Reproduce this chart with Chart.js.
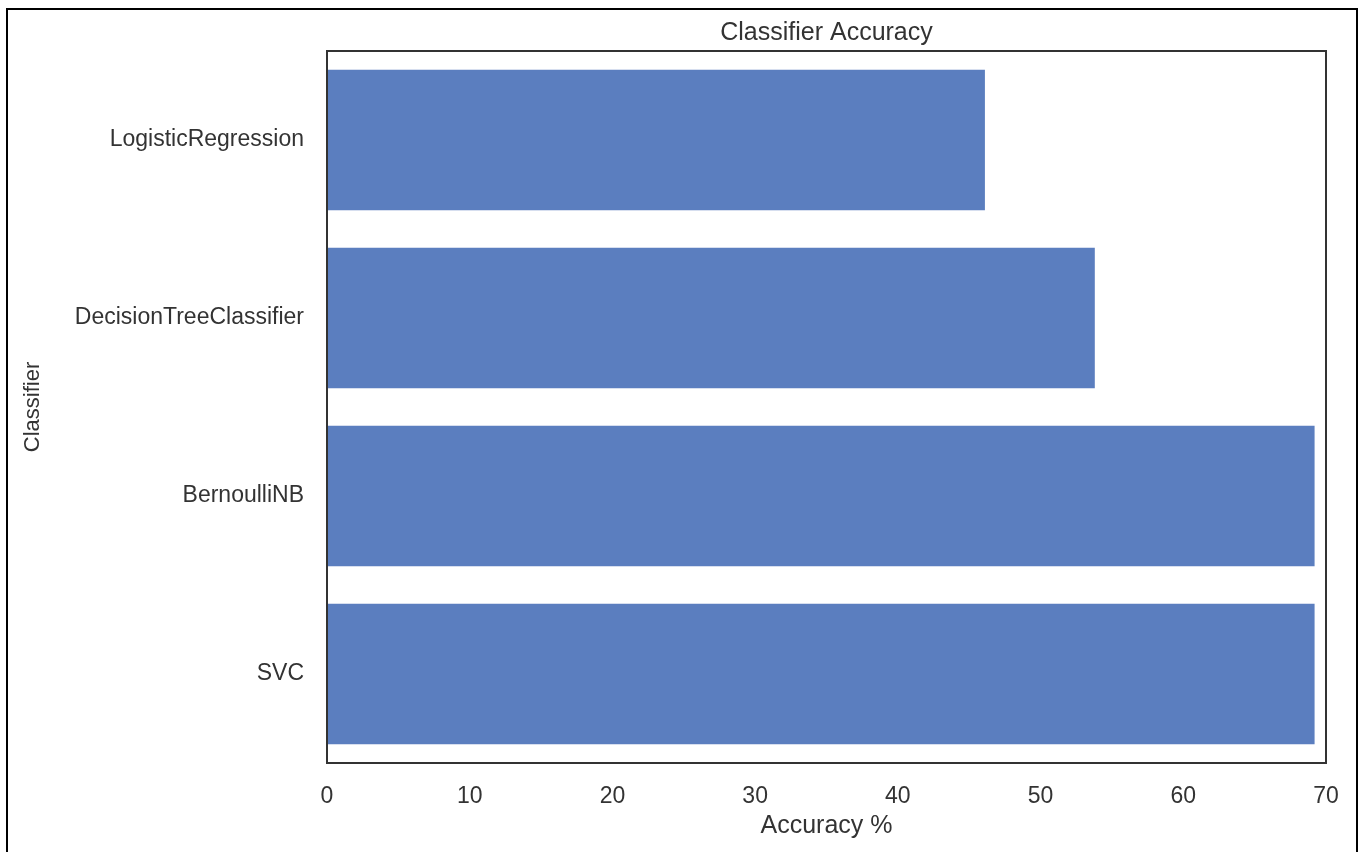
<!DOCTYPE html>
<html>
<head>
<meta charset="utf-8">
<script src="https://cdn.jsdelivr.net/npm/chart.js@4"></script>
<style>
  body { margin: 0; background: #fff; }
  canvas { display: block; }
</style>
</head>
<body>
<canvas id="chart" width="1365" height="852"></canvas>
<script>
var classifiers = ["LogisticRegression", "DecisionTreeClassifier", "BernoulliNB", "SVC"];
var accuracy = [46.1, 53.8, 69.2, 69.2];
var xTicks = [0, 10, 20, 30, 40, 50, 60, 70];

var textColor = "#333333";
var fontFamily = "'Liberation Sans', Arial, sans-serif";

// outer frame, plot box and title
var framePlugin = {
  id: "frame",
  afterDraw: function (chart) {
    var ctx = chart.ctx;
    var a = chart.chartArea;
    ctx.save();
    ctx.strokeStyle = "#333333";
    ctx.lineWidth = 2;
    ctx.strokeRect(a.left, a.top, a.right - a.left, a.bottom - a.top);
    ctx.strokeStyle = "#000000";
    ctx.lineWidth = 2;
    ctx.beginPath();
    ctx.moveTo(7, 852);
    ctx.lineTo(7, 9);
    ctx.lineTo(1357, 9);
    ctx.lineTo(1357, 852);
    ctx.stroke();
    ctx.fillStyle = textColor;
    ctx.font = "25px " + fontFamily;
    ctx.textAlign = "center";
    ctx.textBaseline = "middle";
    ctx.fillText("Classifier Accuracy", (a.left + a.right) / 2, 33);
    ctx.restore();
  }
};

var ctx = document.getElementById("chart").getContext("2d");
var chart = new Chart(ctx, {
  type: "bar",
  data: {
    labels: classifiers,
    datasets: [
      {
        data: accuracy,
        backgroundColor: "#5b7ebf",
        barPercentage: 0.79,
        categoryPercentage: 1.0,
      },
    ],
  },
  options: {
    indexAxis: "y",
    responsive: false,
    animation: false,
    layout: { padding: { left: 0, top: 51, right: 39, bottom: 0 } },
    plugins: {
      legend: { display: false },
      tooltip: { enabled: false },
    },
    scales: {
      x: {
        min: 0,
        max: 70,
        afterBuildTicks: function (scale) {
          scale.ticks = xTicks.map(function (v) { return { value: v }; });
        },
        afterFit: function (scale) { scale.height = 89; },
        grid: { display: false, drawTicks: false },
        border: { display: false },
        ticks: { color: textColor, padding: 20, font: { size: 23, family: fontFamily } },
        title: {
          display: true,
          text: "Accuracy %",
          color: textColor,
          font: { size: 25, family: fontFamily },
          padding: { top: 0, bottom: 11 },
        },
      },
      y: {
        afterFit: function (scale) { scale.width = 327; },
        grid: { display: false, drawTicks: false },
        border: { display: false },
        ticks: { color: textColor, padding: 23, font: { size: 23, family: fontFamily } },
        title: {
          display: true,
          text: "Classifier",
          color: textColor,
          font: { size: 22, family: fontFamily },
          padding: { top: 20, bottom: 0 },
        },
      },
    },
  },
  plugins: [framePlugin],
});
</script>
</body>
</html>
